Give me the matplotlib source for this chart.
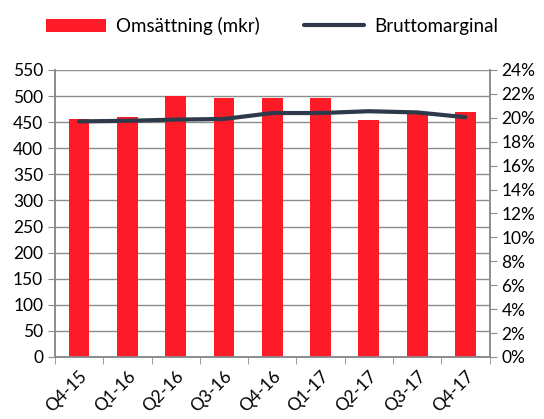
import matplotlib.pyplot as plt
from matplotlib.ticker import FuncFormatter, MultipleLocator

# --- Data ---
quarters = ["Q4-15", "Q1-16", "Q2-16", "Q3-16", "Q4-16", "Q1-17", "Q2-17", "Q3-17", "Q4-17"]
omsattning = [456, 460, 501, 497, 497, 496, 454, 467, 469]
bruttomarginal = [19.7, 19.75, 19.85, 19.9, 20.4, 20.4, 20.55, 20.45, 20.05]

bar_color = "#ff1a27"
line_color = "#2e3a4a"
axis_gray = "#8c8c8c"

plt.rcParams["font.family"] = ["Lato", "DejaVu Sans"]

fig = plt.figure(figsize=(5.44, 4.19), dpi=100)
ax = fig.add_axes([0.101, 0.148, 0.799, 0.685])
ax2 = ax.twinx()

x = list(range(len(quarters)))
ax.bar(x, omsattning, width=0.43, color=bar_color, zorder=3, label="Omsättning (mkr)")
ax2.plot(x, bruttomarginal, color=line_color, linewidth=3, solid_capstyle="round",
         zorder=4, label="Bruttomarginal")

# Left axis
ax.set_ylim(0, 550)
ax.yaxis.set_major_locator(MultipleLocator(50))
ax.set_xlim(-0.5, len(quarters) - 0.5)
ax.grid(axis="y", color=axis_gray, linewidth=1, zorder=0)
ax.set_axisbelow(True)

# Right axis
ax2.set_ylim(0, 24)
ax2.yaxis.set_major_locator(MultipleLocator(2))
ax2.yaxis.set_major_formatter(FuncFormatter(lambda v, p: f"{v:.0f}%"))

# x ticks: labels centered, tick marks between categories
ax.set_xticks(x)
ax.set_xticklabels(quarters, rotation=45, ha="right", rotation_mode="anchor")
ax.tick_params(axis="x", length=0, pad=8)
ax.set_xticks([i - 0.5 for i in range(len(quarters) + 1)], minor=True)
ax.tick_params(axis="x", which="minor", length=5, color=axis_gray, direction="out")

for a in (ax, ax2):
    a.spines["top"].set_visible(False)
    for s in ("left", "right", "bottom"):
        a.spines[s].set_color(axis_gray)
        a.spines[s].set_linewidth(1.2)
    a.tick_params(axis="y", labelsize=12.5, color=axis_gray, length=5)
ax.tick_params(axis="x", labelsize=12.5)
ax.tick_params(axis="y", direction="out")
ax2.tick_params(axis="y", direction="out")
ax2.set_zorder(ax.get_zorder() + 1)
ax2.patch.set_visible(False)

h1, l1 = ax.get_legend_handles_labels()
h2, l2 = ax2.get_legend_handles_labels()
fig.legend(h1 + h2, l1 + l2, loc="upper center", bbox_to_anchor=(0.5, 1.0), ncol=2,
           frameon=False, fontsize=13.5, handlelength=3.2, handletextpad=0.5,
           columnspacing=2.4)

fig.savefig("out.png", dpi=100)
